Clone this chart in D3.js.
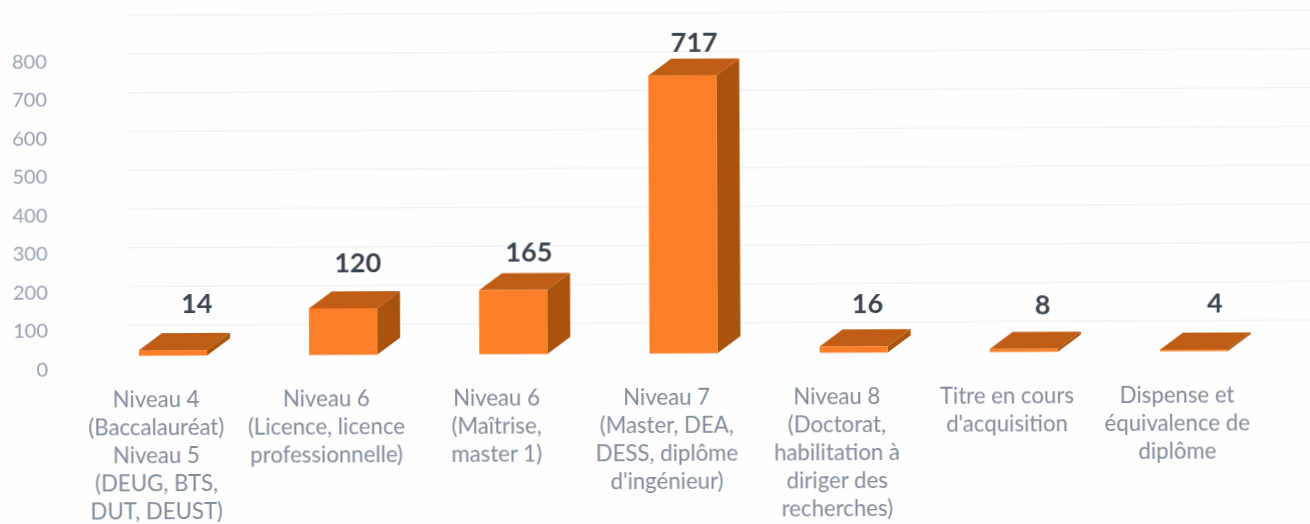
<!DOCTYPE html>
<html>
<head>
<meta charset="utf-8">
<script src="https://cdn.jsdelivr.net/npm/d3@7"></script>
<style>
body { margin: 0; background: #fefefe; }
text { font-family: Lato, "Open Sans", sans-serif; }
</style>
</head>
<body>
<svg id="chart" width="1310" height="524"></svg>
<script>
var categories = [
    ["Niveau 4", "(Baccalauréat)", "Niveau 5", "(DEUG, BTS,", "DUT, DEUST)"],
    ["Niveau 6", "(Licence, licence", "professionnelle)"],
    ["Niveau 6", "(Maîtrise,", "master 1)"],
    ["Niveau 7", "(Master, DEA,", "DESS, diplôme", "d'ingénieur)"],
    ["Niveau 8", "(Doctorat,", "habilitation à", "diriger des", "recherches)"],
    ["Titre en cours", "d'acquisition"],
    ["Dispense et", "équivalence de", "diplôme"]
]
var values = [14, 120, 165, 717, 16, 8, 4]
var yTicks = [0, 100, 200, 300, 400, 500, 600, 700, 800]
var gridTicks = [100, 200, 300, 400, 500, 600, 700, 800, 900]

var dimensions = {
    width: 1310,
    height: 524,
    depthX: 23,
    depthY: 17
}

// the value labels were placed by hand in the original
var labelShiftX = [24, 15, 16, 12, 14, 19, 21]
var labelShiftY = [37, 35.6, 29, 23.8, 33.7, 34.4, 37.3]

var svg = d3.select("#chart")

var defs = svg.append("defs")
defs.append("filter").attr("id", "soft")
    .append("feGaussianBlur").attr("stdDeviation", 0.7)

// the source is a slightly tilted scan, hence the rotation
var plot = svg.append("g")
              .attr("filter", "url(#soft)")
              .attr("transform", "rotate(-0.25,655,355)")

var xScale = d3.scaleBand()
               .domain(d3.range(categories.length))
               .range([139, 1228])
               .paddingInner(0.6)
               .paddingOuter(0)

// bars sit on their own baseline, the tick labels run a little lower
var yScale = d3.scaleLinear().domain([0, 800]).range([353.5, 43.5])
var labelScale = d3.scaleLinear().domain([0, 800]).range([367, 59])
var gridScale = d3.scaleLinear().domain([100, 900]).range([323, 13])

// back wall grid
plot.append("g")
    .selectAll("line")
    .data(gridTicks)
    .enter()
    .append("line")
    .attr("x1", 127)
    .attr("x2", 1330)
    .attr("y1", d => gridScale(d))
    .attr("y2", d => gridScale(d))
    .attr("stroke", "#e6f0f7")
    .attr("stroke-width", 1.2)

// side wall grid, barely visible
plot.append("g")
    .selectAll("line")
    .data(gridTicks)
    .enter()
    .append("line")
    .attr("x1", 72)
    .attr("x2", 125)
    .attr("y1", d => gridScale(d) + 40)
    .attr("y2", d => gridScale(d))
    .attr("stroke", "#f8fafc")
    .attr("stroke-width", 1)

var yAxisGen = d3.axisLeft().scale(labelScale).tickValues(yTicks).tickSize(0).tickPadding(0)
var yAxis = plot.append("g")
                .attr("transform", "translate(48,0)")
                .call(yAxisGen)
yAxis.select(".domain").remove()
yAxis.selectAll("text")
     .style("font-size", "20px")
     .style("font-family", "Lato, sans-serif")
     .attr("fill", "#969fb0")

var bars = plot.append("g")
               .selectAll("g")
               .data(values)
               .enter()
               .append("g")

// top face
bars.append("path")
    .attr("fill", "#bf5d12")
    .attr("d", (d, i) => {
        var x = xScale(i), w = xScale.bandwidth(), y = yScale(d)
        return d3.line()([[x, y], [x + w, y], [x + w + dimensions.depthX, y - dimensions.depthY], [x + dimensions.depthX, y - dimensions.depthY]])
    })

// side face
bars.append("path")
    .attr("fill", "#a9520f")
    .attr("d", (d, i) => {
        var x = xScale(i) + xScale.bandwidth(), y = yScale(d), y0 = yScale(0)
        return d3.line()([[x, y], [x + dimensions.depthX, y - dimensions.depthY], [x + dimensions.depthX, y0 - dimensions.depthY], [x, y0]])
    })

// front face
bars.append("rect")
    .attr("x", (d, i) => xScale(i))
    .attr("y", d => yScale(d))
    .attr("width", xScale.bandwidth())
    .attr("height", d => yScale(0) - yScale(d))
    .attr("fill", "#fb7f26")

// value labels
bars.append("text")
    .attr("x", (d, i) => xScale(i) + xScale.bandwidth() / 2 + labelShiftX[i])
    .attr("y", (d, i) => yScale(d) - labelShiftY[i])
    .attr("text-anchor", "middle")
    .attr("font-size", 27)
    .attr("font-weight", 700)
    .attr("fill", "#3b4450")
    .text(d => d)

// category labels
var catLabels = plot.append("g")
                    .selectAll("text")
                    .data(categories)
                    .enter()
                    .append("text")
                    .attr("text-anchor", "middle")
                    .attr("font-size", 22.2)
                    .attr("fill", "#808a99")
                    .attr("y", 405)

catLabels.selectAll("tspan")
         .data((d, i) => d.map(t => ({ t: t, i: i })))
         .enter()
         .append("tspan")
         .attr("x", d => xScale(d.i) + xScale.bandwidth() / 2 - 17)
         .attr("dy", (d, j) => j == 0 ? 0 : 28)
         .text(d => d.t)
</script>
</body>
</html>
